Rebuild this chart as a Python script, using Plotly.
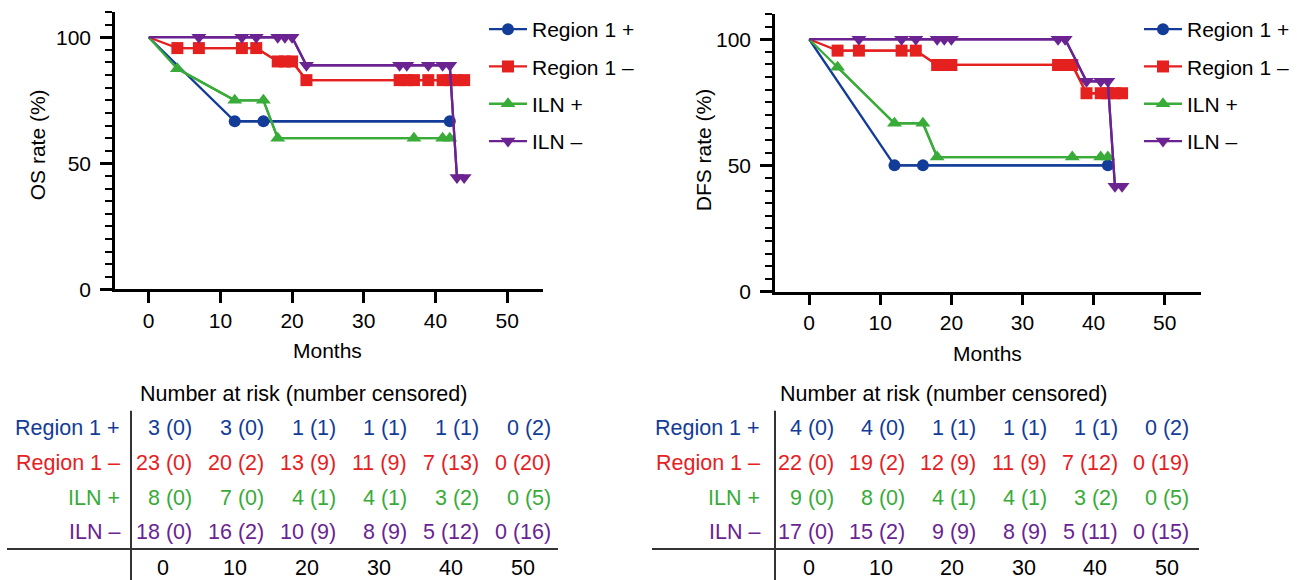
import plotly.graph_objects as go

# ---------------- data ----------------
series_names = ["Region 1 +", "Region 1 –", "ILN +", "ILN –"]

# OS curves (months, %)
os_r1p_t = [0, 12, 16, 42]
os_r1p_s = [100, 66.7, 66.7, 66.7]
os_r1m_t = [0, 4, 7, 13, 15, 18, 19, 20, 22, 35, 36, 37, 39, 41, 42, 43, 44]
os_r1m_s = [100, 95.7, 95.7, 95.7, 95.7, 90.4, 90.4, 90.4, 83.0, 83.0, 83.0, 83.0, 83.0, 83.0, 83.0, 83.0, 83.0]
os_ilnp_t = [0, 4, 12, 16, 18, 37, 41, 42]
os_ilnp_s = [100, 87.5, 75, 75, 60, 60, 60, 60]
os_ilnm_t = [0, 7, 13, 15, 18, 19, 20, 22, 35, 36, 39, 41, 42, 43, 44]
os_ilnm_s = [100, 100, 100, 100, 100, 100, 100, 88.9, 88.9, 88.9, 88.9, 88.9, 88.9, 44.4, 44.4]

# DFS curves (months, %)
dfs_r1p_t = [0, 12, 16, 42]
dfs_r1p_s = [100, 50, 50, 50]
dfs_r1m_t = [0, 4, 7, 13, 15, 18, 19, 20, 35, 36, 37, 39, 41, 42, 43, 44]
dfs_r1m_s = [100, 95.5, 95.5, 95.5, 95.5, 89.8, 89.8, 89.8, 89.8, 89.8, 89.8, 78.6, 78.6, 78.6, 78.6, 78.6]
dfs_ilnp_t = [0, 4, 12, 16, 18, 37, 41, 42]
dfs_ilnp_s = [100, 88.9, 66.7, 66.7, 53.3, 53.3, 53.3, 53.3]
dfs_ilnm_t = [0, 7, 13, 15, 18, 19, 20, 35, 36, 39, 41, 42, 43, 44]
dfs_ilnm_s = [100, 100, 100, 100, 100, 100, 100, 100, 100, 83.3, 83.3, 83.3, 41.7, 41.7]

# Number at risk (number censored)
risk_times = [0, 10, 20, 30, 40, 50]
os_risk_r1p = ["3 (0)", "3 (0)", "1 (1)", "1 (1)", "1 (1)", "0 (2)"]
os_risk_r1m = ["23 (0)", "20 (2)", "13 (9)", "11 (9)", "7 (13)", "0 (20)"]
os_risk_ilnp = ["8 (0)", "7 (0)", "4 (1)", "4 (1)", "3 (2)", "0 (5)"]
os_risk_ilnm = ["18 (0)", "16 (2)", "10 (9)", "8 (9)", "5 (12)", "0 (16)"]
dfs_risk_r1p = ["4 (0)", "4 (0)", "1 (1)", "1 (1)", "1 (1)", "0 (2)"]
dfs_risk_r1m = ["22 (0)", "19 (2)", "12 (9)", "11 (9)", "7 (12)", "0 (19)"]
dfs_risk_ilnp = ["9 (0)", "8 (0)", "4 (1)", "4 (1)", "3 (2)", "0 (5)"]
dfs_risk_ilnm = ["17 (0)", "15 (2)", "9 (9)", "8 (9)", "5 (11)", "0 (15)"]

# ---------------- style ----------------
W, H = 1305, 580
FIG_H = 592
FONT = "Liberation Sans, Arial, Helvetica, sans-serif"
FS = 21
FS_TAB = 21.5
colors = ["#123c98", "#e5211f", "#38ab38", "#6a2391"]
symbols = ["circle", "square", "triangle-up", "triangle-down"]
msizes = [12, 12, 13, 13]


def px(x):
    return x / W


def py(y):
    return 1 - y / H


fig = go.Figure()

os_curves = [(os_r1p_t, os_r1p_s), (os_r1m_t, os_r1m_s), (os_ilnp_t, os_ilnp_s), (os_ilnm_t, os_ilnm_s)]
dfs_curves = [(dfs_r1p_t, dfs_r1p_s), (dfs_r1m_t, dfs_r1m_s), (dfs_ilnp_t, dfs_ilnp_s), (dfs_ilnm_t, dfs_ilnm_s)]

for panel, curves, xa, ya, leg in [(0, os_curves, "x", "y", "legend"), (1, dfs_curves, "x2", "y2", "legend2")]:
    for i, (t, s) in enumerate(curves):
        fig.add_trace(go.Scatter(
            x=t, y=s, mode="lines", xaxis=xa, yaxis=ya,
            line=dict(color=colors[i], width=2.3), showlegend=False, hoverinfo="skip"))
        fig.add_trace(go.Scatter(
            x=t[1:], y=s[1:], mode="lines+markers", xaxis=xa, yaxis=ya,
            name=series_names[i], legend=leg, legendgroup=f"g{panel}{i}",
            line=dict(color=colors[i], width=2.3),
            marker=dict(symbol=symbols[i], size=msizes[i], color=colors[i], line=dict(width=0)),
            cliponaxis=False))

axis_common = dict(showline=True, linecolor="black", linewidth=2.5, ticks="outside",
                   tickcolor="black", tickwidth=2.5, showgrid=False, zeroline=False,
                   tickfont=dict(family=FONT, size=FS, color="black"))

legend_common = dict(xanchor="left", yanchor="top", itemwidth=38,
                     font=dict(family=FONT, size=FS, color="black"), tracegroupgap=7,
                     bgcolor="rgba(0,0,0,0)")

fig.update_layout(
    width=W, height=FIG_H, margin=dict(l=0, r=0, t=0, b=0),
    plot_bgcolor="white", paper_bgcolor="white",
    font=dict(family=FONT, color="black"),
    xaxis=dict(domain=[px(115), px(543)], range=[-4.7, 55], anchor="y",
               tickvals=risk_times, ticklen=11, **axis_common),
    yaxis=dict(domain=[py(289), py(12)], range=[0, 110], anchor="x",
               tickvals=[0, 50, 100], ticklen=12, ticklabelstandoff=5,
               minor=dict(dtick=5, ticks="outside", ticklen=7, tickwidth=2, tickcolor="black"),
               **axis_common),
    xaxis2=dict(domain=[px(775), px(1201)], range=[-4.8, 55.1], anchor="y2",
                tickvals=risk_times, ticklen=11, **axis_common),
    yaxis2=dict(domain=[py(291), py(14)], range=[0, 110], anchor="x2",
                tickvals=[0, 50, 100], ticklen=12, ticklabelstandoff=5,
                minor=dict(dtick=5, ticks="outside", ticklen=7, tickwidth=2, tickcolor="black"),
                **axis_common),
    legend=dict(x=px(484), y=py(9), **legend_common),
    legend2=dict(x=px(1139), y=py(9), **legend_common),
)

shapes = []
shapes.append(dict(type="line", xref="paper", yref="paper", x0=px(104), x1=px(115), y0=py(289), y1=py(289),
                   line=dict(color="black", width=2.5)))
shapes.append(dict(type="line", xref="paper", yref="paper", x0=px(764), x1=px(775), y0=py(291), y1=py(291),
                   line=dict(color="black", width=2.5)))


def ann(text, x, y, xanchor="center", size=FS, color="black", angle=0):
    return dict(text=text, x=px(x), y=py(y), xref="paper", yref="paper", xanchor=xanchor,
                yanchor="middle", textangle=angle, showarrow=False,
                font=dict(family=FONT, size=size, color=color))


annotations = [
    ann("OS rate (%)", 37, 145, angle=-90),
    ann("DFS rate (%)", 703, 150, angle=-90),
    ann("Months", 327, 350),
    ann("Months", 987, 353),
]

tables = [
    dict(rows=[os_risk_r1p, os_risk_r1m, os_risk_ilnp, os_risk_ilnm], title_x=303, label_x=122,
         vline_x=131, hline=(7, 558), col_right0=194, col_step=71.8, num_c0=163, num_step=72),
    dict(rows=[dfs_risk_r1p, dfs_risk_r1m, dfs_risk_ilnp, dfs_risk_ilnm], title_x=943, label_x=762,
         vline_x=775, hline=(652, 1199), col_right0=836, col_step=71.0, num_c0=809, num_step=71.6),
]
row_y = [427, 462, 497, 531]
for tb in tables:
    annotations.append(ann("Number at risk (number censored)", tb["title_x"], 393, size=FS_TAB))
    for r, vals in enumerate(tb["rows"]):
        annotations.append(ann(series_names[r], tb["label_x"], row_y[r], xanchor="right",
                               size=FS_TAB, color=colors[r]))
        for c, v in enumerate(vals):
            annotations.append(ann(v, tb["col_right0"] + c * tb["col_step"], row_y[r], xanchor="right",
                                   size=FS_TAB, color=colors[r]))
    for c, t in enumerate(risk_times):
        annotations.append(ann(str(t), tb["num_c0"] + c * tb["num_step"], 567, size=FS_TAB))
    shapes.append(dict(type="line", xref="paper", yref="paper", x0=px(tb["vline_x"]), x1=px(tb["vline_x"]),
                       y0=py(410), y1=py(580), line=dict(color="#333333", width=2)))
    shapes.append(dict(type="line", xref="paper", yref="paper", x0=px(tb["hline"][0]), x1=px(tb["hline"][1]),
                       y0=py(548), y1=py(548), line=dict(color="#333333", width=2)))

fig.update_layout(shapes=shapes, annotations=annotations)

post = """
document.documentElement.style.margin='0';
document.body.style.margin='0';
document.body.style.overflow='hidden';
"""
fig.write_html("out.html", config={"displayModeBar": False}, post_script=post)
